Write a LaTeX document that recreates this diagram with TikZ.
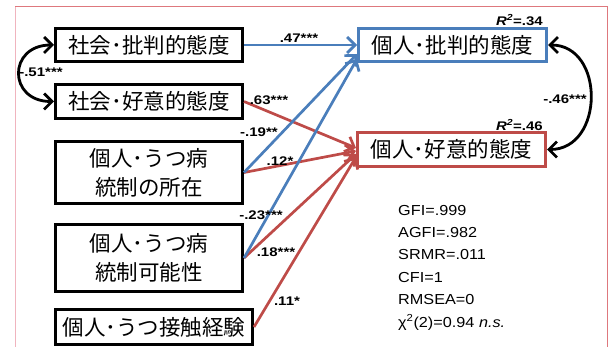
\documentclass[tikz,border=0pt]{standalone}
\usepackage{fontspec}
\setmainfont{Liberation Sans}
\newfontfamily\jp{Noto Sans CJK JP}
\newfontfamily\lab[FakeStretch=1.2]{Liberation Sans}
\newfontfamily\fitf[FakeStretch=1.12]{Liberation Sans}
\usetikzlibrary{arrows.meta}
\definecolor{cblue}{RGB}{74,126,187}
\definecolor{cred}{RGB}{190,75,72}
\definecolor{cframe}{RGB}{222,120,125}
\definecolor{cframel}{RGB}{240,180,190}
\tikzset{
  box/.style={draw=black, line width=3pt, fill=white, inner sep=0pt, align=center,
    font=\jp\fontsize{21.5}{29}\selectfont},
  bluebox/.style={box, draw=cblue},
  redbox/.style={box, draw=cred},
  bar/.style={-{Straight Barb[length=8pt,width=16pt]}, line width=2.7pt},
  bluearr/.style={bar, draw=cblue},
  redarr/.style={bar, draw=cred},
  cov/.style={{Straight Barb[length=8pt,width=16pt]}-{Straight Barb[length=8pt,width=16pt]}, line width=2.8pt, draw=black},
  coef/.style={inner sep=0pt, font=\lab\bfseries\fontsize{12.5}{13}\selectfont},
  fit/.style={anchor=base west, inner sep=0pt, font=\fitf\fontsize{14.5}{16}\selectfont}
}
\begin{document}
\begin{tikzpicture}[x=1pt,y=-1pt]
\useasboundingbox (0,0) rectangle (612,347);
% frame
\draw[cframel, line width=1pt] (15,350) -- (15,7);
\draw[cframe, line width=1pt] (15,7) -- (607,7) -- (607,350);
% nodes
\node[box, minimum width=187pt, minimum height=33pt] (sc) at (149,45) {社会･批判的態度};
\node[box, minimum width=187pt, minimum height=34pt] (sf) at (149,101.5) {社会･好意的態度};
\node[box, minimum width=187pt, minimum height=62pt] (lc) at (149,172.5) {個人･うつ病\\統制の所在};
\node[box, minimum width=187pt, minimum height=67pt] (cp) at (149,258) {個人･うつ病\\統制可能性};
\node[box, minimum width=197pt, minimum height=35pt] (ce) at (154,327) {個人･うつ接触経験};
\node[bluebox, minimum width=188pt, minimum height=33pt] (pc) at (452.5,45) {個人･批判的態度};
\node[redbox, minimum width=188pt, minimum height=34pt] (pf) at (451.5,149.5) {個人･好意的態度};
% paths
\draw[redarr] (sf.east) -- ([yshift=1.5pt]pf.west);
\draw[redarr] (lc.east) -- ([yshift=-1.5pt]pf.west);
\draw[redarr] (cp.east) -- ([yshift=-4.5pt]pf.west);
\draw[redarr] (ce.east) -- ([yshift=-7.5pt]pf.west);
\draw[bluearr] (sc.east) -- (pc.west);
\draw[bluearr] (lc.east) -- ([yshift=-9pt]pc.west);
\draw[bluearr] (cp.east) -- ([yshift=-14pt]pc.west);
% covariances
\draw[cov] (sc.west) to[out=180,in=180,looseness=2.1] (sf.west);
\draw[cov] (pc.east) to[out=0,in=0,looseness=1.4] (pf.east);
% coefficients
\node[coef] (l47) at (299,38) {.47***};
\node[coef] (l63) at (269,100) {.63***};
\node[coef] (l19) at (259,132) {-.19**};
\node[coef] (l12) at (280,161) {.12*};
\node[coef] (l23) at (261,215) {-.23***};
\node[coef] (l18) at (276,252) {.18***};
\node[coef] (l11) at (287,301) {.11*};
\node[coef] (l51) at (41,72) {-.51***};
\node[coef] (l46) at (565,99) {-.46***};
\node[coef, anchor=east] (r1) at (543,20) {\itshape R\textsuperscript{2}\upshape=.34};
\node[coef, anchor=east] (r2) at (543,125) {\itshape R\textsuperscript{2}\upshape=.46};
% fit indices
\node[fit] (f1) at (398,215) {GFI=.999};
\node[fit] (f2) at (398,237) {AGFI=.982};
\node[fit] (f3) at (398,259.5) {SRMR=.011};
\node[fit] (f4) at (398,282) {CFI=1};
\node[fit] (f5) at (398,304) {RMSEA=0};
\node[fit] (f6) at (398,327) {χ\textsuperscript{2}(2)=0.94 \textit{n.s.}};
\end{tikzpicture}
\end{document}
